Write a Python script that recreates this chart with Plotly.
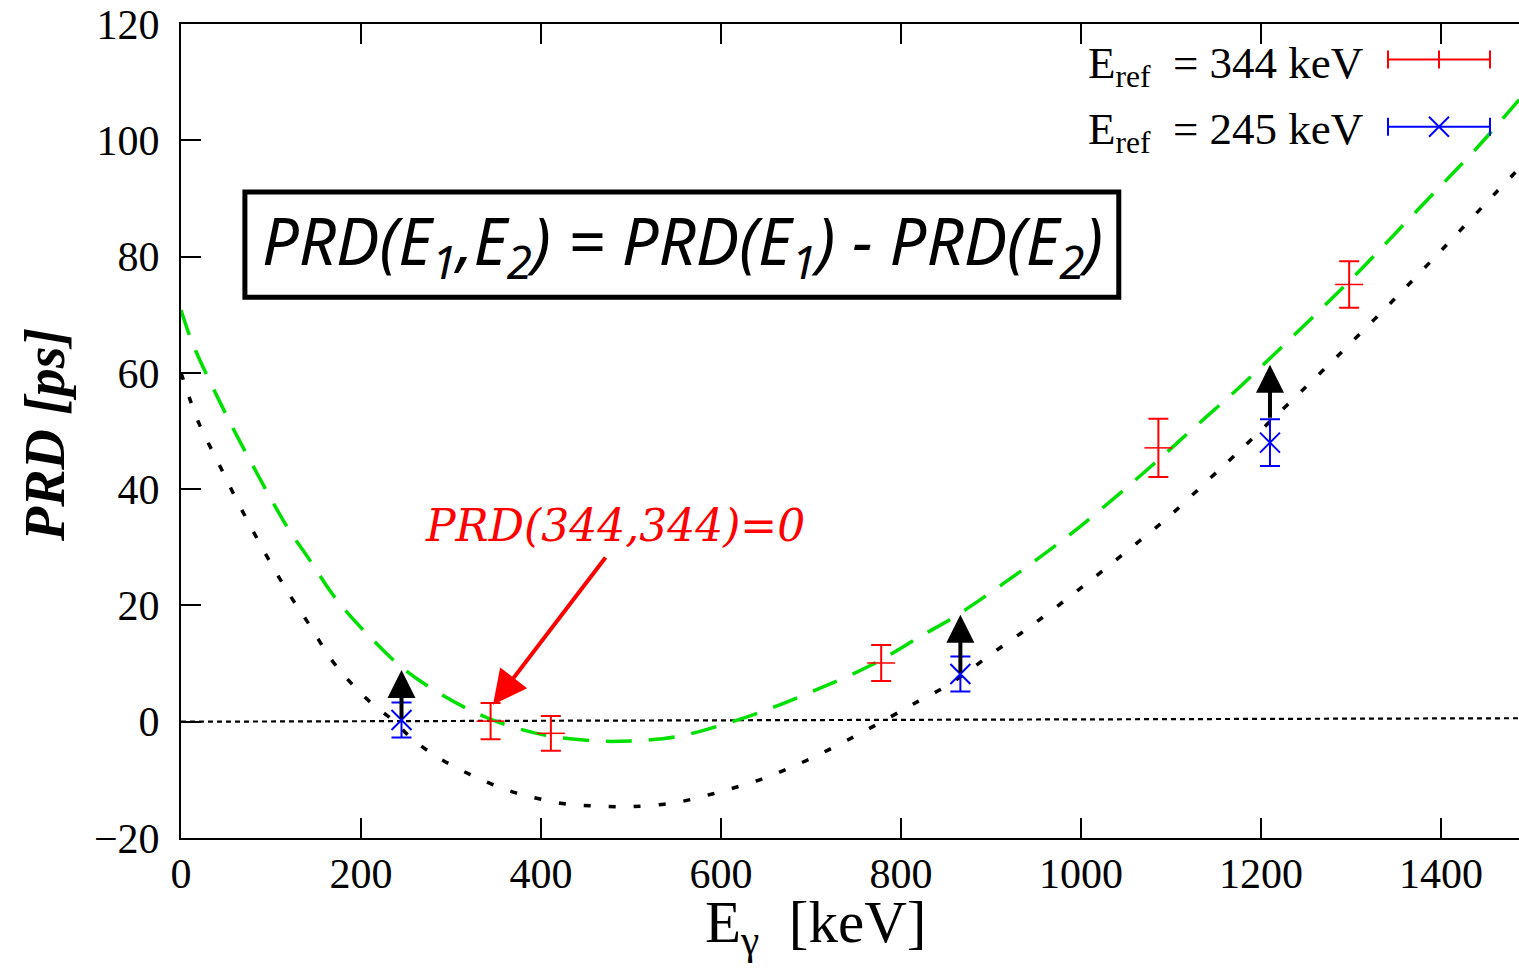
import plotly.graph_objects as go

# ---------------- data ----------------
green_x = [0, 10, 20, 40, 60, 80, 100, 120, 140, 168, 188, 210, 245, 288, 343, 404, 460, 500,
           550, 600, 650, 703, 767, 822, 866, 950, 1000, 1077, 1123, 1171, 1206, 1263, 1308,
           1350, 1400, 1440, 1487]
green_y = [70.8, 66.2, 62.5, 56.0, 49.8, 44.0, 38.3, 33.0, 28.5, 22.0, 18.2, 14.6, 9.4, 4.8,
           0.5, -2.3, -3.3, -3.3, -2.6, -0.6, 2.0, 5.3, 9.75, 14.7, 18.7, 27.8, 33.7, 43.8,
           50.2, 56.8, 61.9, 70.4, 77.3, 84.1, 92.2, 98.7, 107.0]

black_x = [0, 20, 40, 60, 80, 100, 120, 140, 168, 188, 210, 235, 258, 283, 311, 340, 369, 399,
           430, 462, 500, 550, 600, 650, 700, 750, 788, 819, 847, 873, 899, 924, 950, 1000,
           1050, 1100, 1145, 1168, 1191, 1236, 1260, 1282, 1304, 1326, 1349, 1400, 1450, 1487]
black_y = [60.0, 51.3, 45.0, 38.7, 32.8, 27.2, 22.0, 17.3, 10.5, 6.8, 3.4, 0.3, -3.1, -5.9,
           -8.3, -10.4, -12.1, -13.3, -14.2, -14.5, -14.6, -13.9, -12.0, -9.6, -6.3, -2.4, 0.8,
           3.5, 5.8, 8.5, 11.5, 14.2, 17.1, 23.0, 29.2, 35.6, 42.1, 45.4, 48.8, 55.5, 59.1,
           62.4, 65.8, 69.2, 72.8, 81.0, 89.2, 95.2]

zero_x = [0, 1487]
zero_y = [0.0, 0.6]

red_x = [344, 411, 778, 1086, 1298]
red_y = [0.1, -2.0, 10.1, 47.1, 75.2]
red_err = [3.1, 3.0, 3.1, 5.0, 4.0]

blue_x = [245, 866, 1210]
blue_y = [0.3, 8.2, 48.0]
blue_err = [3.0, 3.0, 4.0]

arrow_x = [245, 866, 1210]
arrow_from = [0.3, 8.2, 52.0]
arrow_to = [8.9, 18.4, 61.4]

x_ticks = [0, 200, 400, 600, 800, 1000, 1200, 1400]
y_ticks = [-20, 0, 20, 40, 60, 80, 100, 120]

legend_labels = ["E<sub>ref</sub>&nbsp;&nbsp;= 344 keV", "E<sub>ref</sub>&nbsp;&nbsp;= 245 keV"]

# ---------------- figure ----------------
SERIF = "Liberation Serif, Times New Roman, serif"
GREEN = "#00e000"

fig = go.Figure()

fig.add_trace(go.Scatter(x=zero_x, y=zero_y, mode="lines",
                         line=dict(color="black", width=2.2, dash="5px,4px"), hoverinfo="skip"))
fig.add_trace(go.Scatter(x=black_x, y=black_y, mode="lines",
                         line=dict(color="black", width=3.5, dash="7px,18px", shape="spline"),
                         hoverinfo="skip"))
fig.add_trace(go.Scatter(x=green_x, y=green_y, mode="lines",
                         line=dict(color=GREEN, width=3.5, dash="26px,17px", shape="spline"),
                         hoverinfo="skip"))

fig.add_trace(go.Scatter(x=red_x, y=red_y, mode="markers",
                         marker=dict(symbol="line-ew", size=20, color="red",
                                     line=dict(color="red", width=1.5)),
                         error_y=dict(type="data", array=red_err, color="red", thickness=2, width=10)))
fig.add_trace(go.Scatter(x=blue_x, y=blue_y, mode="markers",
                         marker=dict(symbol="x-thin", size=20, color="blue",
                                     line=dict(color="blue", width=2)),
                         error_y=dict(type="data", array=blue_err, color="blue", thickness=2, width=10)))

annotations = []
for xa, y0, y1 in zip(arrow_x, arrow_from, arrow_to):
    annotations.append(dict(x=xa, y=y1, ax=xa, ay=y0, xref="x", yref="y", axref="x", ayref="y",
                            text="", showarrow=True, arrowhead=2, arrowsize=1.4, arrowwidth=4,
                            arrowcolor="black"))

# red annotation + arrow
annotations.append(dict(x=482, y=33.8, xref="x", yref="y", text="<i>PRD(344,344)=0</i>",
                        showarrow=False, font=dict(family="DejaVu Serif", size=44, color="red")))
annotations.append(dict(x=346.7, y=2.9, ax=473, ay=28.5, xref="x", yref="y", axref="x", ayref="y",
                        text="", showarrow=True, arrowhead=2, arrowsize=1.7, arrowwidth=4,
                        arrowcolor="red"))

# boxed formula
annotations.append(dict(x=556.7, y=82.2, xref="x", yref="y",
                        text="<i>PRD(E<sub>1</sub>,E<sub>2</sub>) = PRD(E<sub>1</sub>) - PRD(E<sub>2</sub>)</i>",
                        showarrow=False,
                        font=dict(family="Liberation Sans Narrow, Noto Sans, sans-serif", size=65,
                                  color="black")))

# axis titles
annotations.append(dict(x=(815 - 181) / 1338, y=(838 - 926) / 814, xref="paper", yref="paper",
                        xanchor="center", yanchor="middle",
                        text="E<sub>γ</sub>&nbsp;&nbsp;[keV]", showarrow=False,
                        font=dict(family=SERIF, size=59, color="black")))
annotations.append(dict(x=(45 - 181) / 1338, y=(838 - 435) / 814, xref="paper", yref="paper",
                        xanchor="center", yanchor="middle",
                        text="<b><i>PRD [ps]</i></b>", textangle=-90, showarrow=False,
                        font=dict(family=SERIF, size=56, color="black")))

# legend text
leg_y = [(838 - 66) / 814, (838 - 132) / 814]
for lab, ly in zip(legend_labels, leg_y):
    annotations.append(dict(x=(1365 - 181) / 1338, y=ly, xref="paper", yref="paper",
                            xanchor="right", yanchor="middle", text=lab, showarrow=False,
                            font=dict(family=SERIF, size=45, color="black")))

shapes = []
shapes.append(dict(type="rect", xref="x", yref="y", x0=71, x1=1042, y0=73.0, y1=91.1,
                   line=dict(color="black", width=5), fillcolor="rgba(0,0,0,0)"))

# legend samples (pixel-sized shapes anchored in paper coordinates)
lx = (1439 - 181) / 1338
sample_y = [(838 - 59.5) / 814, (838 - 126.7) / 814]
sample_col = ["red", "blue"]
for sy, col in zip(sample_y, sample_col):
    common = dict(xref="paper", yref="paper", xsizemode="pixel", ysizemode="pixel",
                  xanchor=lx, yanchor=sy, line=dict(color=col, width=2))
    shapes.append(dict(type="line", x0=-51, x1=51, y0=0, y1=0, **common))
    shapes.append(dict(type="line", x0=-51, x1=-51, y0=-9, y1=9, **common))
    shapes.append(dict(type="line", x0=51, x1=51, y0=-9, y1=9, **common))
    if col == "red":
        shapes.append(dict(type="line", x0=0, x1=0, y0=-9, y1=9, **common))
    else:
        shapes.append(dict(type="line", x0=-10, x1=10, y0=-10, y1=10, **common))
        shapes.append(dict(type="line", x0=-10, x1=10, y0=10, y1=-10, **common))

fig.update_layout(
    width=1519, height=971,
    margin=dict(l=181, r=0, t=24, b=133, pad=0),
    paper_bgcolor="white", plot_bgcolor="white",
    showlegend=False,
    annotations=annotations, shapes=shapes,
    xaxis=dict(range=[0, 1486.7], tickvals=x_ticks, ticks="inside", ticklen=20, tickwidth=2,
               tickcolor="black", showline=True, linewidth=2, linecolor="black", mirror="ticks",
               showgrid=False, zeroline=False, ticklabelstandoff=-2,
               tickfont=dict(family=SERIF, size=42, color="black")),
    yaxis=dict(range=[-20, 120], tickvals=y_ticks, ticks="inside", ticklen=20, tickwidth=2,
               tickcolor="black", showline=True, linewidth=2, linecolor="black", mirror=False,
               showgrid=False, zeroline=False, ticklabelstandoff=11,
               tickfont=dict(family=SERIF, size=42, color="black")),
)

fig.write_html("out.html")
